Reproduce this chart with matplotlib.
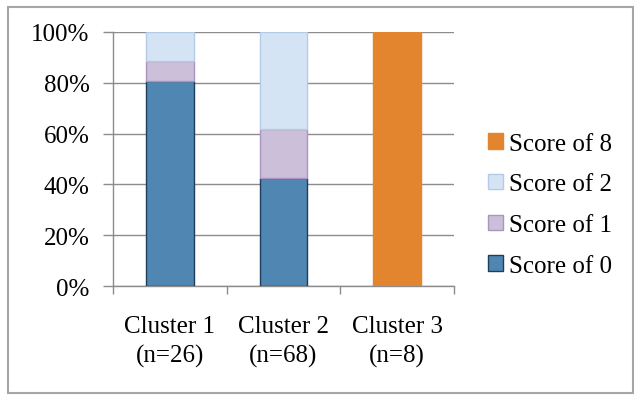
import matplotlib.pyplot as plt
from matplotlib.patches import Rectangle, Patch

clusters = ['Cluster 1\n(n=26)', 'Cluster 2\n(n=68)', 'Cluster 3\n(n=8)']
score_0 = [80.8, 42.6, 0]
score_1 = [7.7, 19.1, 0]
score_2 = [11.5, 38.3, 0]
score_8 = [0, 0, 100]

series = ['Score of 0', 'Score of 1', 'Score of 2', 'Score of 8']
fills = ['#4f86b2', '#cbbfda', '#d5e4f5', '#e3842f']
edges = ['#1f3d5c', '#a996c0', '#b3cbe6', '#e3842f']

plt.rcParams['font.family'] = ['Liberation Serif', 'DejaVu Serif']

fig = plt.figure(figsize=(6.41, 4.02), dpi=100)
ax = fig.add_axes([0.1763, 0.286, 0.532, 0.632])

# grey border round the whole chart
fig.patches.append(Rectangle((8 / 641, 8 / 402), 625 / 641, 386 / 402,
                             transform=fig.transFigure, fill=False,
                             edgecolor='#a6a6a6', linewidth=1.5))

x = list(range(len(clusters)))
bottom = [0, 0, 0]
handles = []
for vals, name, fc, ec in zip([score_0, score_1, score_2, score_8], series, fills, edges):
    # skip empty segments so no stray edge lines are drawn
    xs = [i for i, v in zip(x, vals) if v > 0]
    hs = [v for v in vals if v > 0]
    bs = [b for b, v in zip(bottom, vals) if v > 0]
    ax.bar(xs, hs, width=0.42, bottom=bs, color=fc, edgecolor=ec,
           linewidth=1.0, zorder=3)
    bottom = [b + v for b, v in zip(bottom, vals)]
    handles.append(Patch(facecolor=fc, edgecolor=ec, linewidth=1.0, label=name))

ax.set_xlim(-0.5, 2.5)
ax.set_ylim(0, 100)
ax.set_yticks(range(0, 101, 20))
ax.set_yticklabels([str(v) + '%' for v in range(0, 101, 20)], fontsize=18)
ax.set_xticks(x)
ax.set_xticklabels(clusters, fontsize=18, linespacing=1.4)
ax.set_xticks([-0.5, 0.5, 1.5, 2.5], minor=True)
ax.tick_params(axis='x', which='major', length=0, pad=21)
ax.tick_params(axis='x', which='minor', length=6, color='#8c8c8c', width=1)
ax.tick_params(axis='y', length=7, color='#8c8c8c', width=1, pad=10)

ax.yaxis.grid(True, color='#8c8c8c', linewidth=1, zorder=0)
ax.set_axisbelow(True)
for s in ['top', 'right']:
    ax.spines[s].set_visible(False)
for s in ['left', 'bottom']:
    ax.spines[s].set_color('#8c8c8c')
    ax.spines[s].set_linewidth(1)

fig.legend(handles=handles[::-1], loc='center left',
           bbox_to_anchor=(478 / 641, 0.488), frameon=False, fontsize=18,
           handlelength=0.58, handleheight=0.58, handletextpad=0.25,
           labelspacing=0.75, borderaxespad=0)

fig.savefig('out.png', dpi=100)
